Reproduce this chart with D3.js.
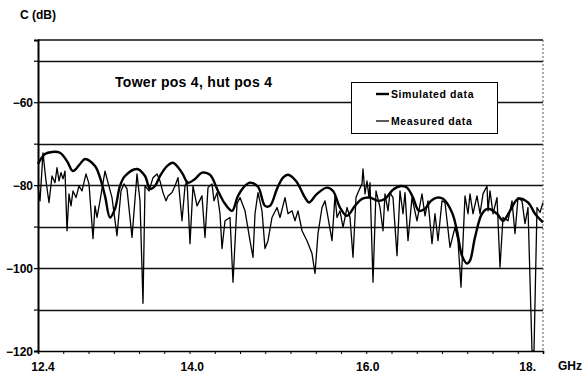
<!DOCTYPE html>
<html>
<head>
<meta charset="utf-8">
<script src="https://cdn.jsdelivr.net/npm/d3@7/dist/d3.min.js"></script>
<style>
  html, body { margin: 0; padding: 0; background: #fff; }
  svg { display: block; }
  text { font-family: "Liberation Sans", Arial, sans-serif; font-weight: bold; fill: #000; }
</style>
</head>
<body>
<div id="chart"></div>
<script>
// Frequency sweep 12.4 .. 18.0 GHz, sample index 0..202
const fStart = 12.4, fStop = 18.0;
const sampleCount = 202;
const xTickFreqs = [12.4, 14.0, 16.0, 18.0];
const xTickLabels = ["12.4", "14.0", "16.0", "18."];
const yTickValues = [-120, -100, -80, -60];
const yGridValues = [-110, -100, -90, -80, -70, -60, -50];
const yLabel = "C (dB)";
const xUnit = "GHz";
const title = "Tower pos 4, hut pos 4";
const seriesNames = ["Simulated data", "Measured data"];

// Simulated coupling: [sample, dB]
const simulated = [
  [0, -74.9], [2.8, -72.5], [5.6, -72.0], [8.8, -72.2], [11.6, -74.2], [14, -76.6],
  [16.8, -74.9], [18.8, -73.7], [22.8, -75.4], [24.8, -78.2], [26.8, -82.6], [28.8, -87.8],
  [30.8, -85.7], [32.8, -80.2], [34.8, -77.8], [39.6, -76.1], [42.8, -77.8], [44.8, -80.9],
  [46.8, -80.2], [48.8, -77.8], [51.6, -75.4], [54, -74.6], [57.6, -77.0], [60, -79.4],
  [62.8, -78.5], [65.6, -77.0], [68.8, -77.5], [72, -81.4], [74.8, -84.5], [77.6, -86.2],
  [80, -82.6], [82.4, -80.4], [84.8, -79.4], [88, -80.4], [90.8, -85.0], [92.8, -85.0],
  [95.6, -80.9], [98, -78.2], [100, -77.5], [103.2, -79.0], [106.8, -83.0], [108.4, -84.2],
  [111.6, -82.1], [115.6, -80.6], [118, -81.4], [120.8, -85.4], [123.6, -87.4], [126.8, -85.0],
  [129.6, -83.3], [132.8, -83.0], [136, -83.8], [138.8, -83.3], [142, -81.1], [145.2, -80.2],
  [147.6, -80.6], [150, -83.0], [152.4, -86.2], [154.8, -85.7], [157.2, -83.8], [159.6, -83.0],
  [162, -83.3], [165.6, -86.6], [167.6, -91.0], [169.6, -97.0], [171.6, -98.9], [172.8, -98.2],
  [174.8, -92.6], [177.6, -86.9], [180, -85.7], [183.6, -86.9], [186, -88.6], [188.8, -86.2],
  [192, -83.3], [196, -84.2], [198.8, -86.9], [202, -89.0]
];

// Measured coupling: [sample, dB]
const measured = [
  [0, -80.2], [0.8, -83.8], [2, -72.2], [3.2, -79.0], [4.4, -84.2], [5.6, -77.8],
  [6.8, -79.4], [7.6, -75.8], [8.4, -79.0], [9.2, -77.0], [10, -78.5], [10.8, -76.6],
  [11.6, -91.0], [12.4, -82.1], [13.2, -85.0], [14, -81.4], [15.2, -83.0], [16.4, -80.2],
  [17.6, -81.4], [19.2, -77.3], [20.4, -79.7], [22, -92.9], [22.8, -85.0], [23.6, -87.8],
  [24.8, -83.8], [26.8, -76.6], [28, -79.4], [29.6, -83.0], [31.6, -92.2], [33.2, -81.4],
  [34.4, -79.7], [35.6, -80.9], [37.6, -92.6], [39.6, -77.3], [40.8, -83.8], [42, -108.5],
  [42.8, -80.2], [44.4, -81.4], [46, -78.2], [47.6, -77.3], [48.8, -79.0], [50, -81.8],
  [51.2, -83.8], [52, -82.6], [53.6, -81.8], [54.8, -80.2], [56, -78.2], [57.6, -88.6],
  [58.8, -80.2], [59.6, -79.0], [60.8, -94.1], [62, -80.2], [63.6, -85.0], [65.6, -82.6],
  [66.8, -92.6], [68, -80.6], [69.6, -79.7], [70.4, -83.8], [71.6, -81.8], [72.8, -86.9],
  [73.6, -95.3], [74.8, -88.6], [76.8, -87.8], [78, -103.4], [79.6, -84.5], [80.8, -83.0],
  [82.8, -86.2], [84.8, -93.4], [86, -97.4], [86.8, -86.9], [88, -81.8], [89.6, -86.2],
  [90.8, -95.3], [92, -93.4], [93.6, -87.8], [95.6, -85.4], [96.8, -87.8], [98.8, -83.0],
  [100, -86.9], [101.6, -86.2], [102.8, -88.6], [104, -86.2], [105.6, -91.0], [107.6, -93.4],
  [109.6, -96.5], [110.8, -101.3], [112, -91.7], [113.6, -85.4], [114.8, -83.8], [116, -87.8],
  [117.6, -93.4], [118.8, -82.6], [119.6, -87.8], [120.8, -86.2], [122, -90.2], [123.6, -85.4],
  [124.8, -87.8], [126, -97.4], [127.2, -83.0], [128, -81.8], [129.6, -79.7], [130, -76.1],
  [130.8, -82.1], [131.6, -79.0], [132.4, -83.0], [132.8, -79.4], [134, -103.4], [135.2, -81.4],
  [136.8, -85.4], [138, -91.0], [138.8, -82.1], [140, -86.2], [140.8, -81.8], [142, -83.0],
  [143.6, -97.0], [144.8, -81.4], [146, -86.9], [146.8, -81.8], [148, -93.4], [149.6, -83.0],
  [151.6, -88.6], [153.6, -82.1], [154.8, -87.4], [156, -83.8], [157.6, -94.1], [158.8, -86.9],
  [160, -93.4], [161.6, -83.8], [162.8, -84.2], [164.8, -95.0], [166.8, -90.2], [168, -93.4],
  [169.2, -104.6], [170.8, -82.6], [172, -86.9], [172.8, -82.1], [174, -86.9], [175.6, -82.6],
  [176.8, -86.9], [178, -82.1], [179.6, -80.2], [180, -86.2], [180.8, -81.4], [182, -86.9],
  [183.6, -83.0], [184.8, -99.8], [186, -87.8], [188, -88.6], [189.6, -83.8], [190.8, -91.7],
  [192, -83.0], [193.6, -83.8], [194.8, -89.3], [196, -85.4], [197.6, -120], [198.4, -120],
  [199.6, -85.4], [200.8, -86.6], [202, -84.2]
];

const W = 585, H = 375;
const plot = { left: 38, right: 543, top: 40, bottom: 351 };

const svg = d3.select("#chart").append("svg")
  .attr("width", W).attr("height", H);

const x = d3.scaleLinear().domain([0, sampleCount]).range([plot.left, plot.right]);
const xf = d3.scaleLinear().domain([fStart, fStop]).range([plot.left, plot.right]);
const y = d3.scaleLinear().domain([-120, -45]).range([plot.bottom, plot.top]);

// horizontal gridlines
svg.append("g").selectAll("line").data(yGridValues).join("line")
  .attr("x1", plot.left).attr("x2", plot.right)
  .attr("y1", d => Math.round(y(d)) + 0.5).attr("y2", d => Math.round(y(d)) + 0.5)
  .attr("stroke", "#111").attr("stroke-width", 1.3);

// plot frame: solid top, dotted right side
svg.append("line")
  .attr("x1", plot.left).attr("x2", plot.right)
  .attr("y1", plot.top).attr("y2", plot.top)
  .attr("stroke", "#111").attr("stroke-width", 1.3);
svg.append("line")
  .attr("x1", plot.right).attr("x2", plot.right)
  .attr("y1", plot.top).attr("y2", plot.bottom)
  .attr("stroke", "#555").attr("stroke-width", 1).attr("stroke-dasharray", "2,2");

// y axis
const yAxis = d3.axisLeft(y)
  .tickValues(d3.range(-120, -45, 10))
  .tickSize(4)
  .tickFormat(d => yTickValues.includes(d) ? d3.format("d")(d) : "");
const gy = svg.append("g").attr("transform", `translate(${plot.left},0)`).call(yAxis);
gy.select(".domain").attr("stroke", "#000").attr("stroke-width", 2);
gy.selectAll(".tick line").attr("stroke", "#000").attr("stroke-width", 1.2);
gy.selectAll(".tick text")
  .attr("x", -5).attr("dy", "0.35em")
  .style("font-size", "12px").style("font-family", "'Liberation Sans', Arial, sans-serif")
  .style("font-weight", "bold").attr("fill", "#000");

// x axis: minor ticks every 1/20 of the sweep
const xAxis = d3.axisBottom(x)
  .tickValues(d3.range(0, 21).map(i => i * sampleCount / 20))
  .tickSize(3)
  .tickFormat("");
const gx = svg.append("g").attr("transform", `translate(0,${plot.bottom})`).call(xAxis);
gx.select(".domain").attr("stroke", "#000").attr("stroke-width", 1.6);
gx.selectAll(".tick line").attr("stroke", "#000").attr("stroke-width", 1);

// frequency labels
const labelShift = [5, 10, 5, -7];
svg.append("g").selectAll("text").data(xTickFreqs).join("text")
  .attr("x", (d, i) => xf(d) + labelShift[i])
  .attr("y", 371)
  .attr("text-anchor", (d, i) => i === xTickFreqs.length - 1 ? "end" : "middle")
  .style("font-size", "12px")
  .text((d, i) => xTickLabels[i]);

svg.append("text").attr("x", 558).attr("y", 370).style("font-size", "12px").text(xUnit);
svg.append("text").attr("x", 20).attr("y", 19).style("font-size", "12px").text(yLabel);
svg.append("text").attr("x", 115).attr("y", 87).style("font-size", "14px")
  .style("letter-spacing", "0.3px").text(title);

// series
const line = d3.line().x(d => x(d[0])).y(d => y(d[1]));
const smooth = d3.line().x(d => x(d[0])).y(d => y(d[1])).curve(d3.curveCatmullRom.alpha(0.5));

svg.append("path").datum(measured)
  .attr("d", line)
  .attr("fill", "none").attr("stroke", "#000").attr("stroke-width", 1.3)
  .attr("stroke-linejoin", "round");

svg.append("path").datum(simulated)
  .attr("d", smooth)
  .attr("fill", "none").attr("stroke", "#000").attr("stroke-width", 2.4)
  .attr("stroke-linejoin", "round");

// legend
const lg = svg.append("g");
lg.append("rect").attr("x", 351.5).attr("y", 82.5).attr("width", 146).attr("height", 51)
  .attr("fill", "#fff").attr("stroke", "#000").attr("stroke-width", 1);
const widths = [2.4, 1.3];
seriesNames.forEach((name, i) => {
  const cy = 94 + i * 27;
  lg.append("line").attr("x1", 376).attr("x2", 389).attr("y1", cy).attr("y2", cy)
    .attr("stroke", "#000").attr("stroke-width", widths[i]);
  lg.append("text").attr("x", 391).attr("y", cy + 4).style("font-size", "10.5px")
    .style("letter-spacing", "0.6px").text(name);
});
</script>
</body>
</html>
